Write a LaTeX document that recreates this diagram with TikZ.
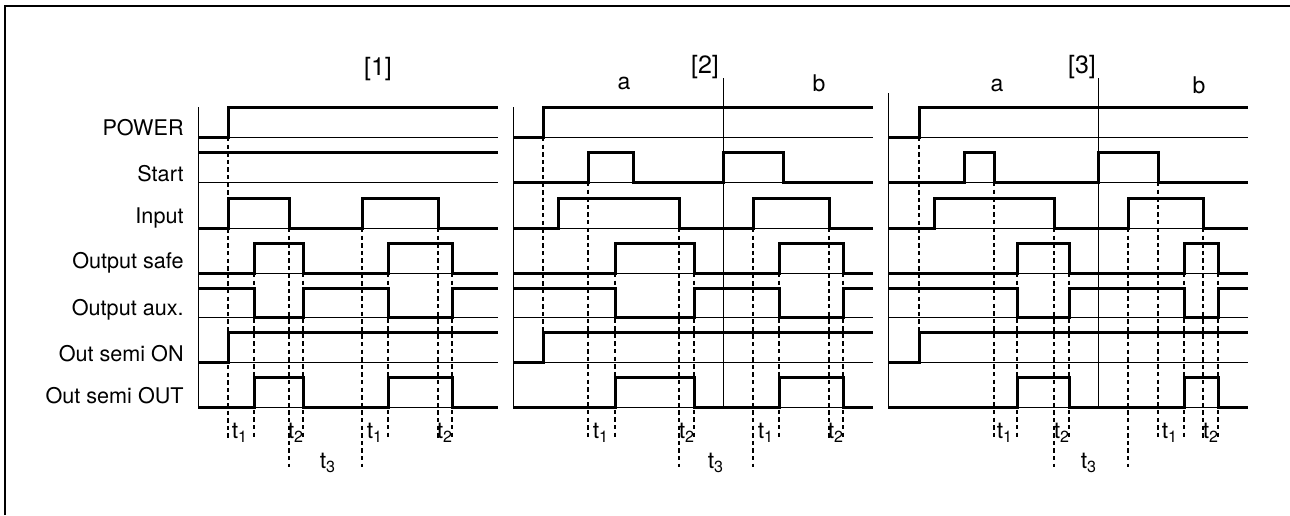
\documentclass[tikz,border=0pt]{standalone}
\usepackage{fontspec}
\setmainfont{TeX Gyre Heros}
\usepackage{tikz}
\usetikzlibrary{positioning}

\tikzset{
  sig/.style={line width=1.5pt, line join=miter},
  base/.style={line width=0.5pt},
  tline/.style={line width=0.6pt, dash pattern=on 2.2pt off 1.6pt},
  rowlbl/.style={anchor=base east, inner sep=0pt, font=\fontsize{10.8}{12}\selectfont},
  tlbl/.style={inner sep=0pt, font=\fontsize{11.5}{13}\selectfont},
  ttl/.style={inner sep=0pt, font=\fontsize{12.5}{14}\selectfont},
}

\begin{document}
\begin{tikzpicture}[x=0.5pt, y=-0.5pt]
  \useasboundingbox (0,0) rectangle (1290,515);

  % frame
  \draw[line width=1pt] (5,515) -- (5,6) -- (1290,6);

  % titles
  \node[ttl] (title1) at (378,69) {[1]};
  \node[ttl] (title2) at (705,67) {[2]};
  \node[ttl] (title3) at (1082,67) {[3]};
  \node[tlbl] (a2) at (624,83) {a};
  \node[tlbl] (b2) at (819,83) {b};
  \node[tlbl] (a3) at (997,85) {a};
  \node[tlbl] (b3) at (1199,85) {b};

  % row labels
  \node[rowlbl] (lpower) at (184,135) {POWER};
  \node[rowlbl] (lstart) at (184,181) {Start};
  \node[rowlbl] (linput) at (184,223) {Input};
  \node[rowlbl] (lsafe)  at (184,268) {Output safe};
  \node[rowlbl] (laux)   at (184,315) {Output aux.};
  \node[rowlbl] (lon)    at (184,361) {Out semi ON};
  \node[rowlbl] (lout)   at (184,403) {Out semi OUT};

  % baselines and frame lines of the panels
  \foreach \y in {137,182,228,273,317,362,407} {
    \draw[base] (198,\y) -- (498,\y);
    \draw[base] (513,\y) -- (873,\y);
    \draw[base] (888,\y) -- (1248,\y);
  }
  \draw[base] (198,107) -- (198,407);
  \draw[base] (513,107) -- (513,407);
  \draw[base] (888,93) -- (888,407);
  \draw[base] (723,78) -- (723,407);
  \draw[base] (1098,78) -- (1098,407);

  % panel 1
  \draw[sig] (198,137) -| (228,107) -- (498,107);
  \draw[sig] (198,152) -- (498,152);
  \draw[sig] (198,228) -| (228,198) -| (289,228) -| (362,198) -| (438,228) -- (498,228);
  \draw[sig] (198,273) -| (254,243) -| (303,273) -| (388,243) -| (452,273) -- (498,273);
  \draw[sig] (198,288) -| (254,317) -| (303,288) -| (388,317) -| (452,288) -- (498,288);
  \draw[sig] (198,362) -| (228,332) -- (498,332);
  \draw[sig] (198,407) -| (254,377) -| (303,407) -| (388,377) -| (452,407) -- (498,407);

  % panel 2
  \draw[sig] (513,137) -| (543,107) -- (873,107);
  \draw[sig] (513,182) -| (588,152) -| (633,182) -| (723,152) -| (783,182) -- (873,182);
  \draw[sig] (513,228) -| (558,198) -| (679,228) -| (753,198) -| (829,228) -- (873,228);
  \draw[sig] (513,273) -| (615,243) -| (694,273) -| (779,243) -| (843,273) -- (873,273);
  \draw[sig] (513,288) -| (615,317) -| (694,288) -| (779,317) -| (843,288) -- (873,288);
  \draw[sig] (513,362) -| (543,332) -- (873,332);
  \draw[sig] (513,407) -| (615,377) -| (694,407) -| (779,377) -| (843,407) -- (873,407);

  % panel 3
  \draw[sig] (888,137) -| (919,107) -- (1248,107);
  \draw[sig] (888,182) -| (964,152) -| (994,182) -| (1098,152) -| (1158,182) -- (1248,182);
  \draw[sig] (888,228) -| (934,198) -| (1054,228) -| (1128,198) -| (1203,228) -- (1248,228);
  \draw[sig] (888,273) -| (1017,243) -| (1069,273) -| (1184,243) -| (1218,273) -- (1248,273);
  \draw[sig] (888,288) -| (1017,317) -| (1069,288) -| (1184,317) -| (1218,288) -- (1248,288);
  \draw[sig] (888,362) -| (919,332) -- (1248,332);
  \draw[sig] (888,407) -| (1017,377) -| (1069,407) -| (1184,377) -| (1218,407) -- (1248,407);

  % timing marks
  \foreach \x/\ya/\yb in {228/137/438, 254/273/438, 289/228/467, 303/273/438,
                          362/228/467, 388/273/438, 438/228/438, 452/273/438,
                          543/137/332, 588/182/438, 615/273/438, 679/228/467,
                          694/273/438, 753/228/467, 779/273/438, 829/228/438,
                          843/273/438,
                          919/137/332, 994/182/438, 1017/273/438, 1054/228/467,
                          1069/273/438, 1128/228/467, 1158/182/438, 1184/273/438,
                          1203/228/438, 1218/273/438}
    \draw[tline] (\x,\ya) -- (\x,\yb);

  % time labels
  \node[tlbl] (t1a) at (240,433) {t\textsubscript{1}};
  \node[tlbl] (t2a) at (296,433) {t\textsubscript{2}};
  \node[tlbl] (t1b) at (375,433) {t\textsubscript{1}};
  \node[tlbl] (t2b) at (445,433) {t\textsubscript{2}};
  \node[tlbl] (t3a) at (328,463) {t\textsubscript{3}};
  \node[tlbl] (t1c) at (601,433) {t\textsubscript{1}};
  \node[tlbl] (t2c) at (687,433) {t\textsubscript{2}};
  \node[tlbl] (t1d) at (766,433) {t\textsubscript{1}};
  \node[tlbl] (t2d) at (836,433) {t\textsubscript{2}};
  \node[tlbl] (t3b) at (716,463) {t\textsubscript{3}};
  \node[tlbl] (t1e) at (1005,433) {t\textsubscript{1}};
  \node[tlbl] (t2e) at (1062,433) {t\textsubscript{2}};
  \node[tlbl] (t1f) at (1170,433) {t\textsubscript{1}};
  \node[tlbl] (t2f) at (1211,433) {t\textsubscript{2}};
  \node[tlbl] (t3c) at (1089,463) {t\textsubscript{3}};
\end{tikzpicture}
\end{document}
